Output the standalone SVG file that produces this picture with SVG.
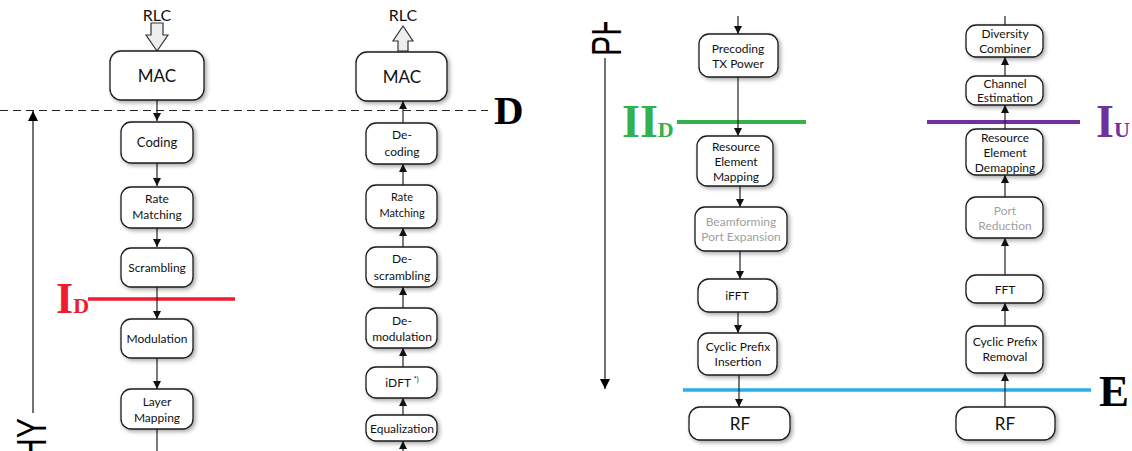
<svg xmlns="http://www.w3.org/2000/svg" width="1132" height="451" viewBox="0 0 1132 451">
  <style>
    .box { fill: #ffffff; stroke: #1a1a1a; stroke-width: 1.3; filter: url(#shadow); }
    .t { font-family: Lato, "Liberation Sans", sans-serif; font-size: 12px; fill: #111; text-anchor: middle; }
    .big { font-size: 17px; }
    .rlc { font-size: 16px; }
    .s13 { font-size: 13px; }
    .s11 { font-size: 11px; }
    .dim { fill: #a0a0a0; }
    .conn { stroke: #222; stroke-width: 1.2; fill: none; }
    .head { fill: #111; }
    .hollow { fill: #eeeeee; stroke: #333; stroke-width: 1.2; }
    .lbl { font-family: "Liberation Serif", serif; font-weight: bold; }
    .phy { font-family: "Liberation Sans", sans-serif; font-size: 42px; fill: #000; }
    .axis { stroke: #444; stroke-width: 1.5; fill: none; }
  </style>
  <defs>
    <filter id="shadow" x="-20%" y="-20%" width="150%" height="150%">
      <feGaussianBlur in="SourceAlpha" stdDeviation="2"/>
      <feOffset dx="2" dy="2" result="b"/>
      <feComponentTransfer><feFuncA type="linear" slope="0.35"/></feComponentTransfer>
      <feMerge><feMergeNode/><feMergeNode in="SourceGraphic"/></feMerge>
    </filter>
    <marker id="ah" viewBox="0 0 10 10" refX="10" refY="5" markerWidth="8" markerHeight="8" markerUnits="userSpaceOnUse" orient="auto">
      <path d="M0,0 L10,5 L0,10 z" class="head"/>
    </marker>
    <marker id="axh" viewBox="0 0 10 10" refX="10" refY="5" markerWidth="10" markerHeight="12" markerUnits="userSpaceOnUse" orient="auto">
      <path d="M0,0 L10,5 L0,10 z" fill="#000"/>
    </marker>
    <clipPath id="topclip"><rect x="560" y="22" width="100" height="100"/></clipPath>
  </defs>

  <!-- split lines and labels -->
  <g id="split-D">
    <line x1="0" y1="110.5" x2="488" y2="110.5" stroke="#222" stroke-width="1.2" stroke-dasharray="8,5"/>
    <text x="494" y="124" class="lbl" font-size="41">D</text>
  </g>
  <g id="split-ID">
    <line x1="88" y1="299" x2="235" y2="299" stroke="#ee1c2e" stroke-width="3.5"/>
    <text x="56" y="313" class="lbl" font-size="44" fill="#ee1c2e">I<tspan font-size="22">D</tspan></text>
  </g>
  <g id="split-IID">
    <line x1="677" y1="122" x2="806" y2="122" stroke="#33b04f" stroke-width="4"/>
    <text x="622" y="137" class="lbl" font-size="46" fill="#33b04f">II<tspan font-size="22">D</tspan></text>
  </g>
  <g id="split-IU">
    <line x1="927" y1="122" x2="1080" y2="122" stroke="#7030a0" stroke-width="4"/>
    <text x="1096" y="137" class="lbl" font-size="46" fill="#7030a0">I<tspan font-size="22">U</tspan></text>
  </g>
  <g id="split-E">
    <line x1="683" y1="390" x2="1091" y2="390" stroke="#2aaee6" stroke-width="3.5"/>
    <text x="1099" y="406" class="lbl" font-size="45">E</text>
  </g>

  <!-- PHY extent axes -->
  <g id="phy-left">
    <line x1="33" y1="413" x2="33" y2="111" class="axis" marker-end="url(#axh)"/>
    <text class="phy" text-anchor="end" transform="translate(46,418) rotate(-90) scale(0.72,1)">PHY</text>
  </g>
  <g id="phy-right">
    <line x1="605" y1="58" x2="605" y2="389" class="axis" marker-end="url(#axh)"/>
    <g clip-path="url(#topclip)">
      <text class="phy" text-anchor="start" transform="translate(621,56) rotate(-90) scale(0.72,1)">PHY</text>
    </g>
  </g>

  <!-- connectors -->
  <g id="connectors">
    <!-- RLC interfaces -->
    <path class="hollow" d="M151,23 H163 V35 H168 L157,51 L146,35 H151 Z"/>
    <path class="hollow" d="M398,51 V41 H393 L403,26 L413,41 H408 V51 Z"/>
    <!-- downlink, left -->
    <line class="conn" x1="157" y1="100" x2="157" y2="121" marker-end="url(#ah)"/>
    <line class="conn" x1="157" y1="162" x2="157" y2="186" marker-end="url(#ah)"/>
    <line class="conn" x1="157" y1="228" x2="157" y2="247" marker-end="url(#ah)"/>
    <line class="conn" x1="157" y1="287" x2="157" y2="319" marker-end="url(#ah)"/>
    <line class="conn" x1="157" y1="358" x2="157" y2="389" marker-end="url(#ah)"/>
    <line class="conn" x1="157" y1="429" x2="157" y2="451"/>
    <!-- uplink, left -->
    <line class="conn" x1="403" y1="123" x2="403" y2="101" marker-end="url(#ah)"/>
    <line class="conn" x1="403" y1="185" x2="403" y2="164" marker-end="url(#ah)"/>
    <line class="conn" x1="403" y1="247" x2="403" y2="228" marker-end="url(#ah)"/>
    <line class="conn" x1="403" y1="308" x2="403" y2="287" marker-end="url(#ah)"/>
    <line class="conn" x1="403" y1="367" x2="403" y2="348" marker-end="url(#ah)"/>
    <line class="conn" x1="403" y1="415" x2="403" y2="398" marker-end="url(#ah)"/>
    <line class="conn" x1="403" y1="451" x2="403" y2="441" marker-end="url(#ah)"/>
    <!-- downlink, right -->
    <line class="conn" x1="738" y1="16" x2="738" y2="34" marker-end="url(#ah)"/>
    <line class="conn" x1="738" y1="77" x2="738" y2="136" marker-end="url(#ah)"/>
    <line class="conn" x1="740" y1="186" x2="740" y2="207" marker-end="url(#ah)"/>
    <line class="conn" x1="740" y1="251" x2="740" y2="279" marker-end="url(#ah)"/>
    <line class="conn" x1="738" y1="312" x2="738" y2="333" marker-end="url(#ah)"/>
    <line class="conn" x1="739" y1="375" x2="739" y2="407" marker-end="url(#ah)"/>
    <!-- uplink, right -->
    <line class="conn" x1="1005" y1="25" x2="1005" y2="16"/>
    <line class="conn" x1="1005" y1="76" x2="1005" y2="57" marker-end="url(#ah)"/>
    <line class="conn" x1="1005" y1="129" x2="1005" y2="105" marker-end="url(#ah)"/>
    <line class="conn" x1="1005" y1="197" x2="1005" y2="175" marker-end="url(#ah)"/>
    <line class="conn" x1="1005" y1="275" x2="1005" y2="238" marker-end="url(#ah)"/>
    <line class="conn" x1="1005" y1="326" x2="1005" y2="303" marker-end="url(#ah)"/>
    <line class="conn" x1="1005" y1="407" x2="1005" y2="373" marker-end="url(#ah)"/>
  </g>

  <!-- downlink chain, left -->
  <text class="t rlc" x="157" y="21">RLC</text>
  <g id="dl-mac"><rect class="box" x="110" y="51" width="94" height="49" rx="11"/><text class="t big" x="157" y="82">MAC</text></g>
  <g id="dl-coding"><rect class="box" x="121" y="122" width="72" height="41" rx="10"/><text class="t s13" x="157" y="147">Coding</text></g>
  <g id="dl-rate"><rect class="box" x="121" y="187" width="72" height="41" rx="10"/><text class="t" x="157" y="203">Rate</text><text class="t" x="157" y="219">Matching</text></g>
  <g id="dl-scrambling"><rect class="box" x="121" y="248" width="72" height="39" rx="10"/><text class="t" x="157" y="272">Scrambling</text></g>
  <g id="dl-modulation"><rect class="box" x="121" y="319" width="72" height="39" rx="10"/><text class="t" x="157" y="343">Modulation</text></g>
  <g id="dl-layer"><rect class="box" x="121" y="389" width="72" height="40" rx="10"/><text class="t" x="157" y="406">Layer</text><text class="t" x="157" y="422">Mapping</text></g>

  <!-- uplink chain, left -->
  <text class="t rlc" x="403" y="21">RLC</text>
  <g id="ul-mac"><rect class="box" x="356" y="52" width="91" height="49" rx="11"/><text class="t big" x="402" y="83">MAC</text></g>
  <g id="ul-decoding"><rect class="box" x="366" y="123" width="71" height="41" rx="10"/><text class="t" x="402" y="139">De-</text><text class="t" x="402" y="156">coding</text></g>
  <g id="ul-rate"><rect class="box" x="366" y="185" width="71" height="43" rx="10"/><text class="t s11" x="402" y="201">Rate</text><text class="t s11" x="402" y="217">Matching</text></g>
  <g id="ul-descrambling"><rect class="box" x="366" y="247" width="71" height="40" rx="10"/><text class="t" x="402" y="263">De-</text><text class="t" x="402" y="280">scrambling</text></g>
  <g id="ul-demodulation"><rect class="box" x="366" y="308" width="71" height="40" rx="10"/><text class="t" x="402" y="325">De-</text><text class="t" x="402" y="341">modulation</text></g>
  <g id="ul-idft"><rect class="box" x="366" y="367" width="71" height="31" rx="10"/><text class="t" x="402" y="387">iDFT <tspan style="font-size:7px" dy="-5">*)</tspan></text></g>
  <g id="ul-equalization"><rect class="box" x="366" y="415" width="71" height="26" rx="10"/><text class="t" x="402" y="433">Equalization</text></g>

  <!-- downlink chain, right -->
  <g id="dl-precoding"><rect class="box" x="699" y="34" width="79" height="43" rx="10"/><text class="t" x="738" y="53">Precoding</text><text class="t" x="738" y="68">TX Power</text></g>
  <g id="dl-remapping"><rect class="box" x="697" y="136" width="76" height="50" rx="10"/><text class="t" x="736" y="151">Resource</text><text class="t" x="736" y="166">Element</text><text class="t" x="736" y="181">Mapping</text></g>
  <g id="dl-beamforming"><rect class="box" x="695" y="207" width="92" height="44" rx="10"/><text class="t dim" x="741" y="226">Beamforming</text><text class="t dim" x="741" y="241">Port Expansion</text></g>
  <g id="dl-ifft"><rect class="box" x="698" y="279" width="79" height="33" rx="11"/><text class="t" x="737" y="300">iFFT</text></g>
  <g id="dl-cpi"><rect class="box" x="698" y="333" width="79" height="42" rx="10"/><text class="t" x="738" y="351">Cyclic Prefix</text><text class="t" x="738" y="366">Insertion</text></g>
  <g id="dl-rf"><rect class="box" x="689" y="407" width="101" height="33" rx="11"/><text class="t big" x="740" y="430">RF</text></g>

  <!-- uplink chain, right -->
  <g id="ul-diversity"><rect class="box" x="966" y="25" width="77" height="32" rx="10"/><text class="t" x="1005" y="38">Diversity</text><text class="t" x="1005" y="53">Combiner</text></g>
  <g id="ul-chest"><rect class="box" x="966" y="76" width="77" height="29" rx="10"/><text class="t" x="1005" y="88">Channel</text><text class="t" x="1005" y="102">Estimation</text></g>
  <g id="ul-redemapping"><rect class="box" x="966" y="129" width="77" height="46" rx="10"/><text class="t" x="1005" y="142">Resource</text><text class="t" x="1005" y="157">Element</text><text class="t" x="1005" y="172">Demapping</text></g>
  <g id="ul-portreduction"><rect class="box" x="966" y="197" width="77" height="41" rx="10"/><text class="t dim" x="1005" y="215">Port</text><text class="t dim" x="1005" y="230">Reduction</text></g>
  <g id="ul-fft"><rect class="box" x="966" y="275" width="77" height="28" rx="10"/><text class="t" x="1005" y="294">FFT</text></g>
  <g id="ul-cpr"><rect class="box" x="966" y="326" width="77" height="47" rx="10"/><text class="t" x="1005" y="346">Cyclic Prefix</text><text class="t" x="1005" y="361">Removal</text></g>
  <g id="ul-rf"><rect class="box" x="956" y="407" width="99" height="33" rx="11"/><text class="t big" x="1005" y="430">RF</text></g>
</svg>
